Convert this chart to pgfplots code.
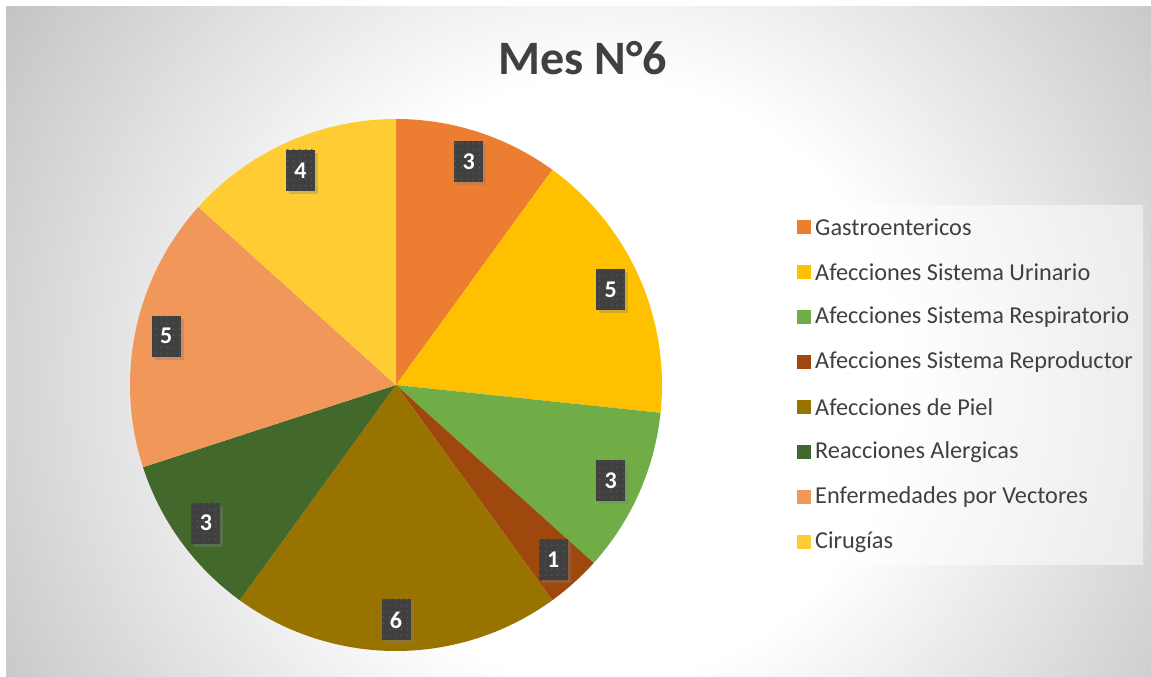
\documentclass[border=0pt]{standalone}
\usepackage{pgfplots}
\pgfplotsset{compat=1.18}
\usepackage{fontspec}
\setmainfont{Carlito}
\usetikzlibrary{shadows,patterns.meta}

\definecolor{c1}{HTML}{ED7D31}
\definecolor{c2}{HTML}{FFC000}
\definecolor{c3}{HTML}{70AD47}
\definecolor{c4}{HTML}{9E480E}
\definecolor{c5}{HTML}{997300}
\definecolor{c6}{HTML}{43682B}
\definecolor{c7}{HTML}{F1975A}
\definecolor{c8}{HTML}{FFCD33}
\definecolor{txt}{HTML}{404040}
\definecolor{lblgray}{HTML}{404040}
\definecolor{bggray}{HTML}{C4C4C4}

\pgfdeclareradialshading{bgshade}{\pgfpoint{0bp}{0bp}}{color(0bp)=(white); color(10.7bp)=(white); color(25bp)=(bggray); color(50bp)=(bggray)}

\tikzset{lbl/.style={fill=lblgray, minimum width=29bp, minimum height=41bp, inner sep=0pt,
    text=white, font=\fontsize{24bp}{24bp}\selectfont\bfseries,
    drop shadow={shadow xshift=3bp, shadow yshift=-3bp, opacity=0.35},
    postaction={pattern={Dots[distance=6bp, radius=1bp]}, pattern color=gray!70!black}}}

% slice: start angle, value, colour  (360/30 = 12 degrees per unit)
\newcommand{\slice}[3]{%
  \addplot[fill=#3, draw=none, domain={#1-#2*12}:{#1}, samples=80, variable=\t]
    ({396+266*cos(\t)},{292+266*sin(\t)}) -- (axis cs:396,292) -- cycle;
}
% label: start angle, value
\newcommand{\plabel}[2]{%
  \node[lbl] at (axis cs:{396+235*cos(#1-#2*6)},{292+235*sin(#1-#2*6)}) {#2};
}
% legend entry: row, colour, text
\newcommand{\legent}[3]{%
  \fill[#2] (axis cs:797,{450-45*#1-7}) rectangle (axis cs:811,{450-45*#1+7});
  \node[anchor=west, inner sep=0, text=txt, font=\fontsize{24.3bp}{24.3bp}\selectfont] at (axis cs:815,{450-45*#1}) {#3};
}

\begin{document}
\begin{tikzpicture}
\begin{axis}[
  width=1151bp, height=677bp, scale only axis,
  xmin=0, xmax=1151, ymin=0, ymax=677,
  hide axis, clip=false,
]
\fill[white] (axis cs:0,0) rectangle (axis cs:1151,677);
\begin{scope}
\clip (axis cs:6,0) rectangle (axis cs:1151,670);
\shade[shading=bgshade] (axis cs:-100,-403) rectangle (axis cs:1300,997);
\end{scope}

\node[text=txt, font=\fontsize{48bp}{48bp}\selectfont\bfseries] at (axis cs:583,619) {Mes N°6};

\slice{90}{3}{c1}
\slice{54}{5}{c2}
\slice{-6}{3}{c3}
\slice{-42}{1}{c4}
\slice{-54}{6}{c5}
\slice{-126}{3}{c6}
\slice{-162}{5}{c7}
\slice{-222}{4}{c8}

\plabel{90}{3}
\plabel{54}{5}
\plabel{-6}{3}
\plabel{-42}{1}
\plabel{-54}{6}
\plabel{-126}{3}
\plabel{-162}{5}
\plabel{-222}{4}

\fill[white, opacity=0.5] (axis cs:785,112) rectangle (axis cs:1143,472);
\legent{0}{c1}{Gastroentericos}
\legent{1}{c2}{Afecciones Sistema Urinario}
\legent{2}{c3}{Afecciones Sistema Respiratorio}
\legent{3}{c4}{Afecciones Sistema Reproductor}
\legent{4}{c5}{Afecciones de Piel}
\legent{5}{c6}{Reacciones Alergicas}
\legent{6}{c7}{Enfermedades por Vectores}
\legent{7}{c8}{Cirugías}
\end{axis}
\end{tikzpicture}
\end{document}
